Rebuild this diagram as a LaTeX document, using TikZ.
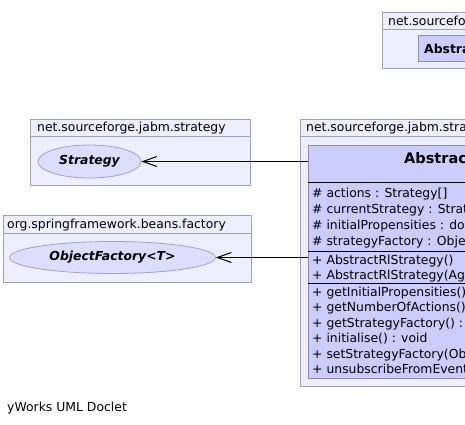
\documentclass[tikz,border=0pt]{standalone}
\usepackage{fontspec}
\setmainfont{DejaVu Sans}
\usetikzlibrary{arrows.meta, positioning, shapes.geometric}

\definecolor{pkgfill}{RGB}{238,238,255}
\definecolor{pkgline}{RGB}{160,160,176}
\definecolor{clsfill}{RGB}{204,204,255}
\definecolor{clsline}{RGB}{140,140,170}
\definecolor{ifcfill}{RGB}{221,221,255}
\definecolor{ifcline}{RGB}{160,160,200}

\tikzset{
  pkg/.style={draw=pkgline, fill=pkgfill, line width=1pt},
  cls/.style={draw=clsline, fill=clsfill, line width=1pt},
  ifc/.style={ellipse, draw=ifcline, fill=ifcfill, line width=0.8pt, inner sep=0pt,
    font=\fontsize{12.4}{15}\selectfont\bfseries\itshape},
  txt/.style={anchor=base west, inner sep=0pt, font=\fontsize{12.4}{15}\selectfont},
  assoc/.style={line width=1pt, -{Straight Barb[length=14pt, width=10pt]}}
}

\begin{document}
\begin{tikzpicture}[x=1pt, y=-1pt]
        \useasboundingbox (0,0) rectangle (465,424);
        \clip (0,0) rectangle (465,424);

        % top package
        \draw[pkg] (382,12) rectangle (490,68);
        \draw[pkgline, line width=1pt] (382,29) -- (490,29);
        \node[txt] (toppkg) at (388,25) {net.sourceforge.jabm.strategy};
        \draw[cls] (418,35) rectangle (600,61);
        \node[txt, font=\fontsize{12.4}{15}\selectfont\bfseries] (topcls) at (424,53) {AbstractRlStrategy};

        % strategy package
        \draw[pkg] (30,119) rectangle (250,185);
        \draw[pkgline, line width=1pt] (30,136) -- (250,136);
        \node[txt] (stratpkg) at (37,131) {net.sourceforge.jabm.strategy};
        \node[ifc, minimum width=103pt, minimum height=33pt] (strategy) at (89.5,161.5) {Strategy};

        % factory package
        \draw[pkg] (3,215) rectangle (251,282);
        \draw[pkgline, line width=1pt] (3,233) -- (251,233);
        \node[txt] (factpkg) at (7,228) {org.springframework.beans.factory};
        \node[ifc, minimum width=206pt, minimum height=32pt] (factory) at (112.5,257.5) {ObjectFactory<T>};

        % main package
        \draw[pkg] (300,119) rectangle (490,386);
        \draw[pkgline, line width=1pt] (300,136) -- (490,136);
        \node[txt] (mainpkg) at (306,131) {net.sourceforge.jabm.strategy};

        % class
        \draw[cls] (308,145) rectangle (640,378);
        \node[txt, font=\fontsize{14.5}{17}\selectfont\bfseries] (title) at (404,163) {AbstractRlStrategy};
        \draw[line width=1pt] (308,182) -- (640,182);
        \draw[line width=1pt] (308,251) -- (640,251);
        \draw[line width=1pt] (308,283) -- (640,283);

        \node[txt] (attr1) at (312,197) {\# actions : Strategy[]};
        \node[txt] (attr2) at (312,213) {\# currentStrategy : Strategy};
        \node[txt] (attr3) at (312,229) {\# initialPropensities : double[]};
        \node[txt] (attr4) at (312,245) {\# strategyFactory : ObjectFactory<Strategy>};

        \node[txt] (ctor1) at (312,264) {+ AbstractRlStrategy()};
        \node[txt] (ctor2) at (312,279) {+ AbstractRlStrategy(Agent)};

        \node[txt] (meth1) at (312,296) {+ getInitialPropensities() : double[]};
        \node[txt] (meth2) at (312,311) {+ getNumberOfActions() : int};
        \node[txt] (meth3) at (312,327) {+ getStrategyFactory() : ObjectFactory<Strategy>};
        \node[txt] (meth4) at (312,342) {+ initialise() : void};
        \node[txt] (meth5) at (312,358) {+ setStrategyFactory(ObjectFactory<Strategy>) : void};
        \node[txt] (meth6) at (312,373) {+ unsubscribeFromEvents() : void};

        % associations
        \coordinate (clsA) at (308,161.5);
        \coordinate (clsB) at (308,257.5);
        \draw[assoc] (clsA) -- (strategy.east);
        \draw[assoc] (clsB) -- (factory.east);

        % footer
        \node[txt] (doclet) at (7,411) {yWorks UML Doclet};

\end{tikzpicture}
\end{document}
